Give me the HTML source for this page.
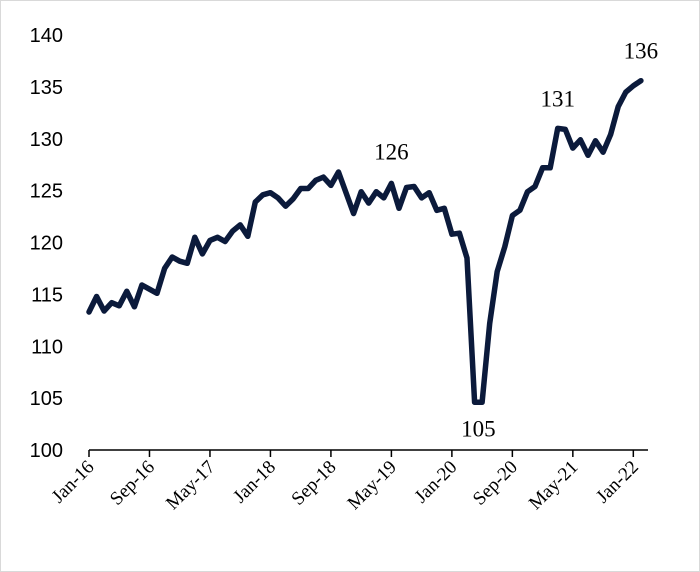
<!DOCTYPE html>
<html><head><meta charset="utf-8"><style>
body{margin:0;background:#fff}
svg{display:block}
</style></head><body>
<svg width="700" height="572" xmlns="http://www.w3.org/2000/svg">
<rect x="0.5" y="0.5" width="699" height="571" fill="#fff" stroke="#d9d9d9"/>
<g id="yaxis"></g>
<g id="xaxis"></g>
<g id="plot"></g>
</svg>
<script>
const values = [113.3,114.8,113.4,114.2,113.9,115.3,113.8,115.9,115.5,115.1,117.5,118.6,118.2,118.0,120.5,118.9,120.2,120.5,120.1,121.1,121.7,120.6,123.9,124.6,124.8,124.3,123.5,124.2,125.2,125.2,126.0,126.3,125.5,126.8,124.8,122.8,124.9,
123.8,124.9,124.3,125.7,123.3,125.3,125.4,124.3,124.8,123.1,123.3,120.8,120.9,118.5,104.6,104.6,112.2,117.2,119.6,122.6,123.1,124.9,125.4,127.2,127.2,131.0,130.9,129.1,129.9,128.4,129.8,128.7,130.4,133.1,134.5,135.1,135.6];
const yTicks = [100,105,110,115,120,125,130,135,140];
const xTickLabels = ["Jan-16","Sep-16","May-17","Jan-18","Sep-18","May-19","Jan-20","Sep-20","May-21","Jan-22"];
const annotations = [{i:40,text:"126",dy:-24},{i:51.5,text:"105",dy:34,v:104.6},{i:62,text:"131",dy:-22},{i:73,text:"136",dy:-22}];
const NS="http://www.w3.org/2000/svg";
const x = m => 89 + m*7.56;
const y = v => 450 - (v-100)*10.375;
function mk(tag, attrs, parent){const e=document.createElementNS(NS,tag);for(const k in attrs)e.setAttribute(k,attrs[k]);parent.appendChild(e);return e;}
const ya=document.getElementById('yaxis'), xa=document.getElementById('xaxis'), pl=document.getElementById('plot');
yTicks.forEach(t=>{
  const e=mk('text',{x:63,y:y(t)+7,'text-anchor':'end','font-family':'Liberation Sans, sans-serif','font-size':'20',fill:'#000'},ya);
  
  
  e.textContent=t;
});
const ax=mk('line',{x1:89,y1:450,x2:648,y2:450,stroke:'#000','stroke-width':'1.5'},xa);


xTickLabels.forEach((l,k)=>{
  const px=x(k*8);
  const t=mk('line',{x1:px,y1:450,x2:px,y2:457,stroke:'#000','stroke-width':'1.5'},xa);
  
  
  const e=mk('text',{x:px+6,y:468,'text-anchor':'end','font-family':'Liberation Serif, serif','font-size':'19',fill:'#000',transform:`rotate(-45 ${px+6} 468)`},xa);
  
  
  e.textContent=l;
});
const d=values.map((v,i)=>(i?'L':'M')+x(i).toFixed(1)+','+y(v).toFixed(1)).join(' ');
const p=mk('path',{d:d,fill:'none',stroke:'#0b1a3b','stroke-width':'5.5','stroke-linejoin':'round','stroke-linecap':'round'},pl);


annotations.forEach(a=>{
  const v=a.v!==undefined?a.v:values[Math.round(a.i)];
  const e=mk('text',{x:x(a.i),y:y(v)+a.dy,'text-anchor':'middle','font-family':'Liberation Serif, serif','font-size':'23',fill:'#000'},pl);
  
  
  e.textContent=a.text;
});
</script>
</body></html>
